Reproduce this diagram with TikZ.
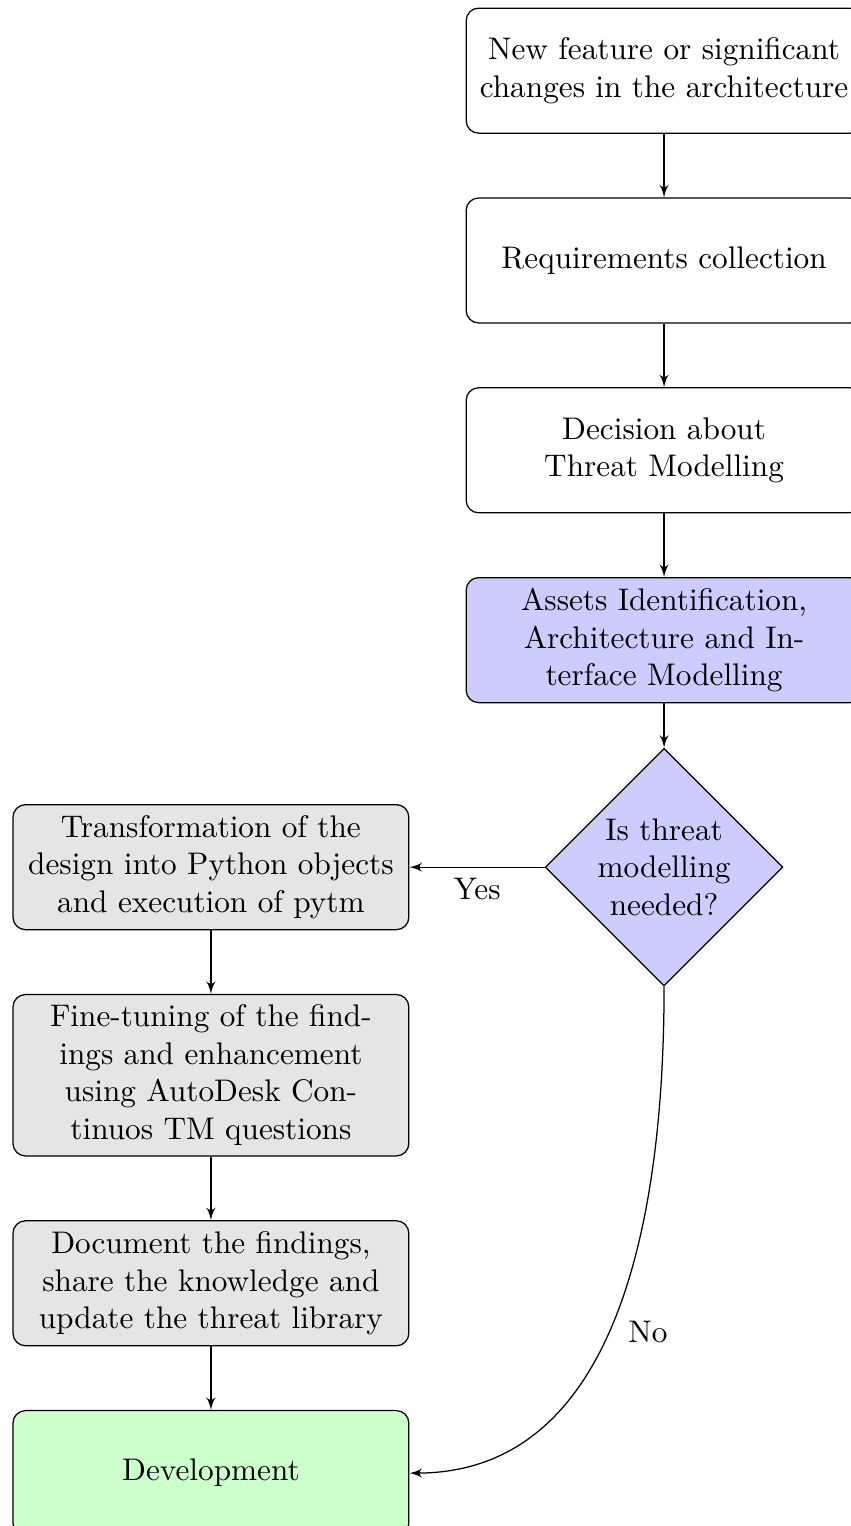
\documentclass[tikz,border=0pt]{standalone}
\usepackage{tikz}
\usetikzlibrary{arrows,shapes,positioning}
\tikzstyle{block}=[rectangle, draw, text width=12em, text centered, rounded corners, minimum height=4em]
\tikzstyle{decision}=[diamond, draw, fill=blue!20, text width=4.5em, text badly centered, inner sep=0pt]
\tikzstyle{line}=[draw, -latex']
\begin{document}
\begin{tikzpicture}[node distance=0.715cm]
      \useasboundingbox (-212.5pt,22.6pt) rectangle (59.8pt,-465.7pt);
      % main column
      \node [block] (feature) {New feature or significant changes in the architecture};
      \node [block, below=of feature] (reqs) {Requirements collection};
      \node [block, below=of reqs] (choose) {Decision about\\ Threat Modelling};
      \node [block, fill=blue!20, below=of choose] (assets) {Assets Identification, Architecture and Interface Modelling};
      \node [decision, below=0.5cm of assets] (needtm) {Is threat modelling needed?};
      % threat modelling branch
      \node [block, fill=gray!20, left=1.52cm of needtm] (pytm) {Transformation of the design into Python objects and execution of pytm};
      \node [block, fill=gray!20, below=of pytm] (tuning) {Fine-tuning of the findings and enhancement using AutoDesk Continuos TM questions};
      \node [block, fill=gray!20, below=of tuning] (docs) {Document the findings, share the knowledge and update the threat library};
      \node [block, fill=green!20, below=of docs] (dev) {Development};
      %
      \path [line] (feature) -- (reqs);
      \path [line] (reqs) -- (choose);
      \path [line] (choose) -- (assets);
      \path [line] (assets) -- (needtm);
      \path [line] (needtm) -- node [below] {Yes} (pytm);
      \path [line] (pytm) -- (tuning);
      \path [line] (tuning) -- (docs);
      \path [line] (docs) -- (dev);
      \path [line] (needtm) to [out=-90, in=0] node [below right] {No} (dev);
\end{tikzpicture}
\end{document}
